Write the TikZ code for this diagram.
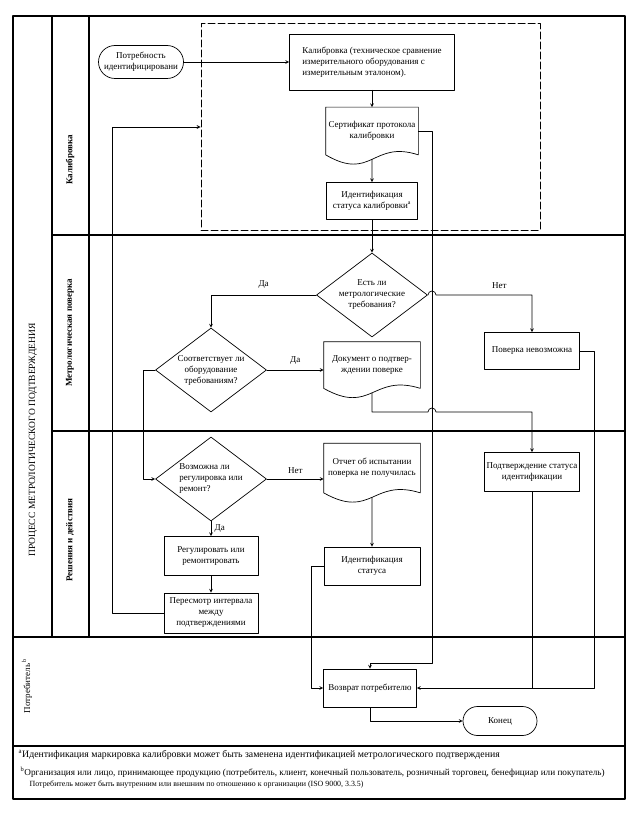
\documentclass[tikz,border=0pt]{standalone}
\usepackage{fontspec}
\setmainfont{Liberation Serif}
\usetikzlibrary{shapes.geometric,shapes.misc,calc}

% document symbol: rectangle with a wavy bottom edge
\newcommand{\docshape}[1]{%
  \draw (#1.south west) .. controls ($(#1.south)+(0,27)$) and ($(#1.south)+(0,-15)$) .. (#1.south east)
    node[coordinate,pos=0.5] (#1-b) {} -- (#1.north east) -- (#1.north west) -- cycle;}

\begin{document}
\begin{tikzpicture}[x=1pt, y=-1pt, font={\fontsize{9}{11}\selectfont}, line join=round, line cap=round, >=stealth, line width=0.7pt,
  box/.style={draw, rectangle, minimum width=95pt, minimum height=38pt, inner sep=1pt, align=center},
  term/.style={draw, rounded rectangle, minimum width=87pt, minimum height=33pt, inner sep=1pt, align=center},
  decision/.style={draw, diamond, aspect=1.3, minimum width=111pt, minimum height=84pt, inner sep=0pt, align=center},
  docnode/.style={rectangle, minimum width=94pt, minimum height=46pt, inner sep=1pt, align=center},
  lane/.style={line width=1.2pt},
  lanename/.style={rotate=90, font={\fontsize{9}{11}\selectfont\bfseries}}]
\useasboundingbox (0,0) rectangle (632,813);

% frame and lanes
\draw[lane] (13,16) rectangle (625,799);
\draw[lane] (52,16)--(52,637) (89,16)--(89,637);
\draw[lane] (52,235)--(625,235) (52,431)--(625,431) (13,637)--(625,637) (13,746)--(625,746);
\node[rotate=90, font={\fontsize{9.5}{11}\selectfont}] (title) at (33,440) {ПРОЦЕСС МЕТРОЛОГИЧЕСКОГО ПОДТВЕРЖДЕНИЯ};
\node[lanename] (lcal) at (70,160) {Калибровка};
\node[lanename] (lmet) at (70,333) {Метрологическая поверка};
\node[lanename] (lres) at (70,540) {Решения и действия};
\node[rotate=90] (lcons) at (27,686) {Потребитель\,\textsuperscript{b}};

% calibration
\node[draw, dashed, dash pattern=on 7pt off 3pt, line width=1pt, minimum width=339pt, minimum height=206pt] (calzone) at (370.5,127) {};
\node[term] (start) at (141,62) {Потребность\\идентифицировани};
\node[box, minimum width=165pt, minimum height=56pt, align=left] (calib) at (372,62) {Калибровка (техническое сравнение\\измерительного оборудования с\\измерительным эталоном).};
\node[docnode, minimum width=92pt, minimum height=47pt] (cert) at (372,131) {Сертификат протокола\\калибровки};
\docshape{cert}
\node[box, minimum width=91pt, minimum height=37pt] (idcal) at (372,201) {Идентификация\\статуса калибровки\textsuperscript{a}};

% metrological verification
\node[decision] (dia1) at (372,295) {Есть ли\\метрологические\\требования?};
\node[decision] (dia2) at (211,370) {Соответствует ли\\оборудование\\требованиям?};
\node[docnode, minimum width=96pt, minimum height=46pt] (doc2) at (372,365) {Документ о подтвер-\\ждении поверке};
\docshape{doc2}
\node[box, minimum height=37pt] (nopov) at (532,351) {Поверка невозможна};

% decisions and actions
\node[decision, align=left] (dia3) at (211,479) {Возможна ли\\регулировка или\\ремонт?};
\node[docnode, minimum width=96pt, minimum height=49pt] (doc3) at (372,468) {Отчет об испытании\\поверка не получилась};
\docshape{doc3}
\node[box, minimum height=39pt] (podtv) at (532,472) {Подтверждение статуса\\идентификации};
\node[box, minimum width=96pt] (idst) at (372,566) {Идентификация\\статуса};
\node[box, minimum width=94pt, minimum height=39pt] (reg) at (211,556) {Регулировать или\\ремонтировать};
\node[box, minimum width=94pt, minimum height=40pt] (rev) at (211,613) {Пересмотр интервала\\между\\подтверждениями};

% consumer
\node[box, minimum width=93pt] (ret) at (370,688) {Возврат потребителю};
\node[term, minimum width=76pt, minimum height=29pt] (stop) at (500,721) {Конец};

% connectors
\coordinate (c1) at (432,663);
\coordinate (h1) at (428,295);
\coordinate (h2) at (428,412);
\draw[->] (start.east) -- (calib.west);
\draw[->] (calib.south) -- (cert.north);
\draw[->] (cert-b) -- (idcal.north);
\draw[->] (idcal.south) -- (dia1.north);
\draw[->] (cert.east) -| (c1) -| (ret.north);
\draw[->] (dia1.west) -| node[pos=0.25, above=3pt] (lda1) {Да} (dia2.north);
\draw[->] (dia1.east) -- (h1) arc[start angle=180, end angle=0, radius=4pt] -| node[pos=0.33, above=3pt] (lnet1) {Нет} (nopov.north);
\draw[->] (dia2.east) -- node[above=2pt] (lda2) {Да} (dia2.east -| doc2.west);
\draw[->] (doc2-b) |- (h2) arc[start angle=180, end angle=0, radius=4pt] -| (podtv.north);
\draw[->] (dia2.west) -- ++(-12,0) |- (dia3.west);
\draw[->] (dia3.east) -- node[above=2pt] (lnet2) {Нет} (dia3.east -| doc3.west);
\draw[->] (doc3-b) -- (idst.north);
\draw[->] (idst.west) -- ++(-12,0) |- (ret.west);
\draw[->] (dia3.south) -- node[right] (lda3) {Да} (reg.north);
\draw[->] (reg.south) -- (rev.north);
\draw[->] (rev.west) -- ++(-51,0) |- (calzone.west);
\draw[->] (nopov.east) -- ++(14,0) |- (ret.east);
\draw (podtv.south) -- (podtv.south |- ret.east);
\draw[->] (ret.south) |- (stop.west);

% footnotes
\node[anchor=west, font={\fontsize{9.8}{12}\selectfont}] (fna) at (15,755) {\textsuperscript{a}Идентификация маркировка калибровки может быть заменена идентификацией метрологического подтверждения};
\node[anchor=west, font={\fontsize{9.2}{11}\selectfont}] (fnb) at (17,772) {\textsuperscript{b}Организация или лицо, принимающее продукцию (потребитель, клиент, конечный пользователь, розничный торговец, бенефициар или покупатель)};
\node[anchor=west, font={\fontsize{7.9}{9}\selectfont}] (fnc) at (26,785) {Потребитель может быть внутренним или внешним по отношению к организации (ISO 9000, 3.3.5)};
\end{tikzpicture}
\end{document}
